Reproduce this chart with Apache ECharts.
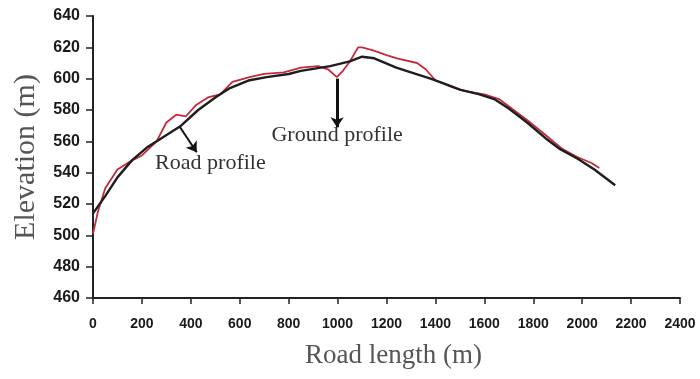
<!DOCTYPE html>
<html><head><meta charset="utf-8">
<script src="https://cdn.jsdelivr.net/npm/echarts@6/dist/echarts.min.js"></script>
<style>html,body{margin:0;padding:0;background:#fff}#c{width:700px;height:379px}</style>
</head><body><div id="c"></div>
<script>
// Road profile (black): [road length m, elevation m]
var roadProfile = [[0,514],[50,525],[100,537],[160,548],[220,556],[280,562],[360,570],[430,580],[500,588],[560,594],[640,599],[710,601],[800,603],[850,605],[970,608],[1050,611],[1100,614],[1150,613],[1240,607],[1300,604],[1380,600],[1450,596],[1500,593],[1580,590],[1640,587],[1700,581],[1775,572],[1850,562],[1910,555],[1980,549],[2050,542],[2135,532]];
// Ground profile (red)
var groundProfile = [[0,501],[20,515],[50,530],[100,542],[150,547],[200,551],[260,560],[300,572],[340,577],[380,576],[420,583],[470,588],[520,590],[570,598],[640,601],[700,603],[780,604],[850,607],[920,608],[961,606],[997,601],[1022,605],[1050,611],[1084,620],[1100,620],[1145,618],[1200,615],[1243,613],[1325,610],[1360,606],[1400,599],[1460,595],[1520,592],[1600,590],[1660,587],[1720,580],[1780,573],[1850,564],[1920,555],[1980,550],[2040,546],[2070,543]];
var xTicks = {min:0, max:2400, step:200};
var yTicks = {min:460, max:640, step:20};
// annotations: label text, label anchor (data), arrow from/to (data)
var roadLabel = {text:'Road profile', at:[254,546]};
var roadArrow = [[356,569],[424,553]];
var groundLabel = {text:'Ground profile', at:[998,564]};
var groundArrow = [[998,600],[998,569]];

var chart = echarts.init(document.getElementById('c'));
var serif = '"Liberation Serif","Times New Roman",serif';
var option = {
  animation:false,
  grid:{left:93,right:20,top:16,bottom:81,containLabel:false},
  xAxis:{type:'value',min:xTicks.min,max:xTicks.max,interval:xTicks.step,
    axisLine:{lineStyle:{color:'#222',width:2}},
    axisTick:{show:true,length:6,lineStyle:{color:'#222',width:1.5}},
    splitLine:{show:false},
    axisLabel:{color:'#1a1a1a',fontWeight:'bold',fontSize:14,fontFamily:'"Liberation Sans",Arial,sans-serif',margin:19,
      formatter:function(v){return String(v);}},
    name:'Road length (m)',nameLocation:'middle',nameGap:44,
    nameTextStyle:{color:'#555',fontSize:27,fontFamily:serif,padding:[0,0,0,14]}},
  yAxis:{type:'value',min:yTicks.min,max:yTicks.max,interval:yTicks.step,
    axisLine:{show:true,lineStyle:{color:'#222',width:2}},
    axisTick:{show:true,length:7,lineStyle:{color:'#222',width:1.5}},
    splitLine:{show:false},
    axisLabel:{color:'#1a1a1a',fontWeight:'bold',fontSize:16,fontFamily:'"Liberation Sans",Arial,sans-serif',margin:13},
    name:'Elevation (m)',nameLocation:'middle',nameGap:52,
    nameTextStyle:{color:'#555',fontSize:30,fontFamily:serif}},
  series:[
    {name:'Ground profile',type:'line',data:groundProfile,symbol:'none',z:2,
      lineStyle:{color:'#c42a3c',width:1.8}},
    {name:'Road profile',type:'line',data:roadProfile,symbol:'none',z:3,
      lineStyle:{color:'#1e1e1e',width:2.4},
      markLine:{silent:true,symbol:['none','arrow'],symbolSize:10,animation:false,
        label:{show:false},
        lineStyle:{color:'#111',type:'solid',width:2},
        data:[
          [{coord:roadArrow[0]},{coord:roadArrow[1]}],
          [{coord:groundArrow[0],lineStyle:{width:3}},{coord:groundArrow[1]}]
        ]}}
  ]
};
chart.setOption(option);
function txt(l,align){
  var p = chart.convertToPixel({gridIndex:0}, l.at);
  return {type:'text',x:p[0],y:p[1],style:{text:l.text,fill:'#333',font:'22px '+serif,textAlign:align,textVerticalAlign:'middle'}};
}
chart.setOption({graphic:[txt(roadLabel,'left'),txt(groundLabel,'center')]});
</script></body></html>
